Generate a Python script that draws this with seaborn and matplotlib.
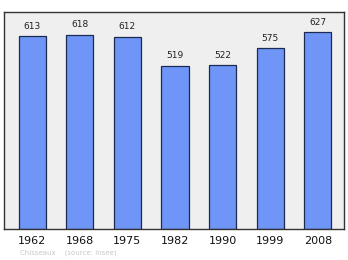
import matplotlib
matplotlib.use("Agg")
import matplotlib.pyplot as plt
import seaborn as sns
import pandas as pd

years = ["1962", "1968", "1975", "1982", "1990", "1999", "2008"]
population = [613, 618, 612, 519, 522, 575, 627]

df = pd.DataFrame({"year": years, "pop": population})

sns.set_style("white")
plt.rcParams['font.family'] = ['DejaVu Sans']

fig = plt.figure(figsize=(3.48, 2.60), dpi=100)
ax = fig.add_axes([4/348, 31/260, 340/348, 217/260])
ax.set_facecolor("#efefef")

sns.barplot(data=df, x="year", y="pop", ax=ax, color="#6f96f6",
            saturation=1, width=0.57, edgecolor="#1a2a50", linewidth=0.9)

for i, v in enumerate(population):
    ax.annotate(str(v), (i, v), xytext=(0, 4), textcoords="offset points",
                ha="center", va="bottom", fontsize=6.5, color="#222222")

ax.set_xlim(-0.59, 6.55)
ax.set_ylim(0, 691)
ax.set_xlabel("")
ax.set_ylabel("")
ax.set_yticks([])
ax.tick_params(axis="x", length=0, labelsize=8, pad=5, colors="#111111")
for s in ax.spines.values():
    s.set_color("#333333")
    s.set_linewidth(1.0)

fig.text(20/348, 1 - 253/260, "Chisseaux    (source: Insee)", fontsize=5,
         color="#c8c8c8", va="center", ha="left")

fig.savefig("out.png", dpi=100)
